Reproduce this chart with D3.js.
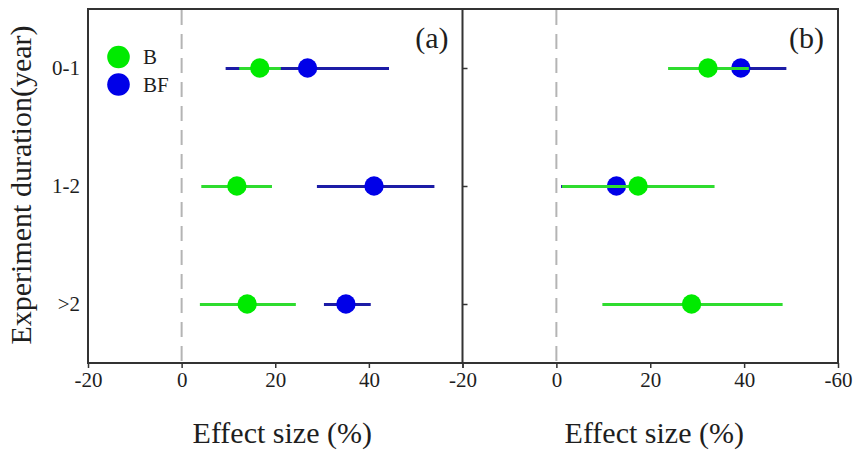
<!DOCTYPE html>
<html>
<head>
<meta charset="utf-8">
<script src="https://cdn.jsdelivr.net/npm/d3@7"></script>
</head>
<body style="margin:0;background:#fff">
<svg id="chart" width="856" height="451"></svg>
<script>
// Experiment duration classes (rows)
const categories = ["0-1", "1-2", ">2"];

// Panel (a): mean effect size and 95% CI, %
const aB_mean  = [16.7, 11.8, 14.0];
const aB_lo    = [12.3,  4.2,  3.9];
const aB_hi    = [21.2, 19.3, 24.4];
const aBF_mean = [26.9, 41.1, 35.1];
const aBF_lo   = [ 9.4, 28.9, 30.4];
const aBF_hi   = [44.3, 54.0, 40.4];

// Panel (b): mean effect size and 95% CI, %
const bB_mean  = [32.3, 17.4, 28.8];
const bB_lo    = [23.8,  1.2,  9.8];
const bB_hi    = [41.0, 33.7, 48.2];
const bBF_mean = [39.3, 12.8, null];
const bBF_lo   = [30.0,  1.0, null];
const bBF_hi   = [49.0, 25.0, null];

// Axis ticks
const xTickValues = [-20, 0, 20, 40, 60];
const aTickLabels = ["-20", "0", "20", "40", ""];
const bTickLabels = ["-20", "0", "20", "40", "-60"];

const seriesNames = ["B", "BF"];
const dotColor  = { B: "#00ea00", BF: "#0000e8" };
const lineColor = { B: "#2fdc2f", BF: "#1c1ca6" };

const FONT = "'Liberation Serif', 'Times New Roman', monospace";
const TEXT_COLOR = "#1e1e1e";

const svg = d3.select("#chart");
const plotTop = 9, plotBottom = 363;
const x0 = 88, xMid = 462.5, x1 = 838;

const y = d3.scalePoint().domain(categories).range([plotTop, plotBottom]).padding(0.5);
const xA = d3.scaleLinear().domain([-20, 60]).range([x0, xMid]);
const xB = d3.scaleLinear().domain([-20, 60]).range([xMid, x1]);

function rows(mean, lo, hi) {
  return categories.map((c, i) => ({ cat: c, mean: mean[i], lo: lo[i], hi: hi[i] }))
                   .filter(d => d.mean != null);
}

function label(sel, size) {
  return sel.style("font-family", FONT).style("font-size", size + "px").style("fill", TEXT_COLOR);
}

const panels = [
  { x: xA, label: "(a)", ticks: aTickLabels, titleShift: 7,
    series: { BF: rows(aBF_mean, aBF_lo, aBF_hi), B: rows(aB_mean, aB_lo, aB_hi) } },
  { x: xB, label: "(b)", ticks: bTickLabels, titleShift: 4,
    series: { BF: rows(bBF_mean, bBF_lo, bBF_hi), B: rows(bB_mean, bB_lo, bB_hi) } }
];

panels.forEach(p => {
  const g = svg.append("g");
  const [r0, r1] = p.x.range();

  // zero reference line
  g.append("line")
    .attr("x1", p.x(0)).attr("x2", p.x(0))
    .attr("y1", plotTop + 1).attr("y2", plotBottom - 1)
    .attr("stroke", "#b4b4b4").attr("stroke-width", 2)
    .attr("stroke-dasharray", "15,9");

  // bottom axis
  const ax = g.append("g").attr("transform", `translate(0,${plotBottom})`)
    .call(d3.axisBottom(p.x).tickValues(xTickValues)
      .tickFormat((d, i) => p.ticks[i]).tickSize(5).tickSizeOuter(0).tickPadding(4));
  ax.select(".domain").remove();
  ax.selectAll("line").attr("stroke", "#333").attr("stroke-width", 1.5);
  label(ax.selectAll("text"), 21);

  // axis title
  label(g.append("text"), 30)
    .attr("x", (r0 + r1) / 2 + p.titleShift).attr("y", 443)
    .attr("text-anchor", "middle")
    .text("Effect size (%)");

  // panel label
  label(g.append("text"), 30)
    .attr("x", r1 - 14).attr("y", 48)
    .attr("text-anchor", "end")
    .text(p.label);

  // CI bars and means, BF underneath B
  ["BF", "B"].forEach(s => {
    const data = p.series[s];
    g.selectAll(null).data(data).enter().append("line")
      .attr("x1", d => p.x(d.lo)).attr("x2", d => p.x(d.hi))
      .attr("y1", d => y(d.cat) + 0.5).attr("y2", d => y(d.cat) + 0.5)
      .attr("stroke", lineColor[s]).attr("stroke-width", 3);
    g.selectAll(null).data(data).enter().append("circle")
      .attr("cx", d => p.x(d.mean)).attr("cy", d => y(d.cat))
      .attr("r", 9.7).attr("fill", dotColor[s]);
  });
});

// y axis ticks on the shared middle spine (pointing into panel b)
const yAx = svg.append("g").attr("transform", `translate(${xMid},0)`)
  .call(d3.axisRight(y).tickSize(5).tickSizeOuter(0).tickFormat(""));
yAx.select(".domain").remove();
yAx.selectAll("line").attr("stroke", "#333").attr("stroke-width", 1.5);

// category labels at the left edge
const yLab = svg.append("g").attr("transform", `translate(${x0},0)`)
  .call(d3.axisLeft(y).tickSize(0).tickPadding(8));
yLab.select(".domain").remove();
label(yLab.selectAll("text"), 21);

// frames
const frame = svg.append("g").attr("fill", "none").attr("stroke", "#333").attr("stroke-width", 2);
frame.append("rect").attr("x", x0).attr("y", plotTop).attr("width", x1 - x0).attr("height", plotBottom - plotTop);
frame.append("line").attr("x1", xMid).attr("x2", xMid).attr("y1", plotTop).attr("y2", plotBottom);

// y axis title
label(svg.append("text"), 30)
  .attr("transform", `translate(31,185) rotate(-90)`)
  .attr("text-anchor", "middle")
  .text("Experiment duration(year)");

// legend
const legend = svg.append("g");
seriesNames.forEach((s, i) => {
  legend.append("circle").attr("cx", 118.5).attr("cy", 57 + i * 27.5).attr("r", 11.3).attr("fill", dotColor[s]);
  label(legend.append("text"), 21)
    .attr("x", 143).attr("y", 57 + i * 27.5).attr("dy", "0.35em")
    .text(s);
});
</script>
</body>
</html>
